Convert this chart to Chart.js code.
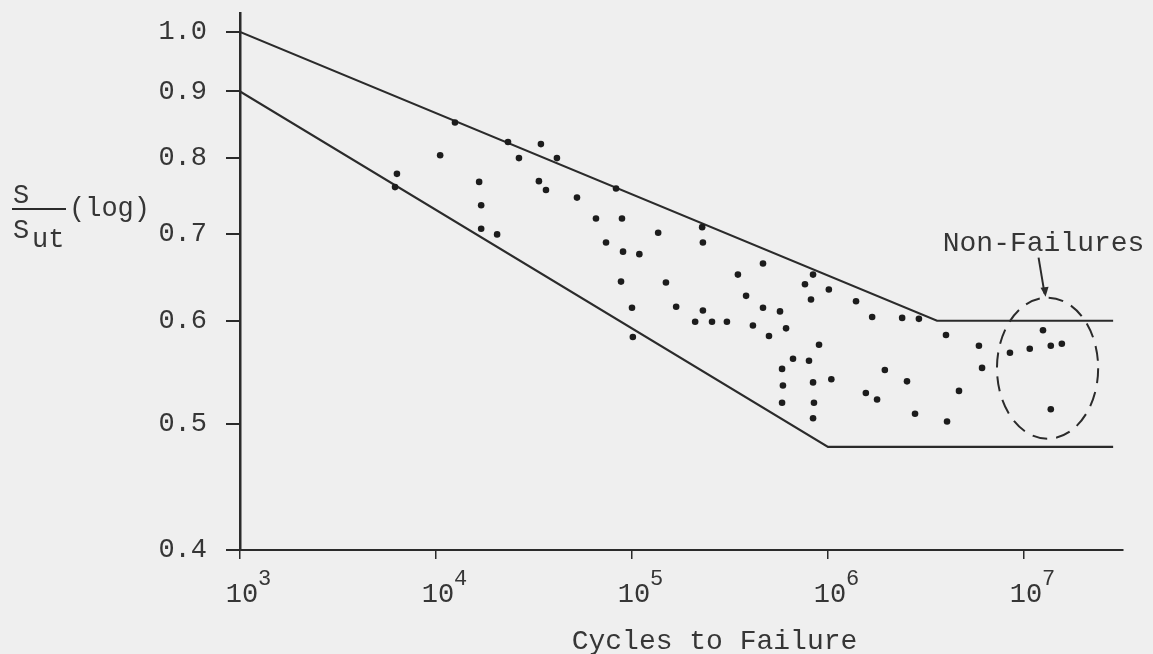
<!DOCTYPE html>
<html lang="en">

<head>
    <meta charset="UTF-8">
    <meta name="viewport" content="width=device-width, initial-scale=1.0">
    <title>Cycles to Failure</title>
    <script src="https://cdn.jsdelivr.net/npm/chart.js"></script>
    <style>
        html,
        body {
            margin: 0;
            padding: 0;
            background: #efefef;
        }

        canvas {
            display: block;
        }
    </style>
</head>

<body>
    <canvas id="snChart" width="1153" height="654"></canvas>

    <script>
        // axis ticks
        const xTicks = [1e3, 1e4, 1e5, 1e6, 1e7];
        const yTicks = [0.4, 0.5, 0.6, 0.7, 0.8, 0.9, 1.0];

        // test results: cycles to failure and S/Sut
        const cycles = [
            1.25e4, 2.33e4, 3.43e4, 4.14e4, 1.05e4, 2.65e4, 6.32e3, 6.18e3, 1.66e4, 1.70e4,
            1.70e4, 2.05e4, 3.35e4, 3.64e4, 5.24e4, 6.55e4, 8.29e4, 8.89e4, 1.36e5, 2.28e5,
            2.30e5, 7.37e4, 9.0e4, 1.09e5, 8.79e4, 1.49e5, 4.66e5, 3.47e5, 8.39e5, 7.63e5,
            8.19e5, 3.82e5, 4.66e5, 5.69e5, 6.11e5, 5.0e5, 1.0e5, 1.68e5, 2.30e5, 2.10e5,
            2.56e5, 3.05e5, 4.14e5, 1.01e5, 9.0e5, 6.63e5, 8.0e5, 5.83e5, 8.39e5, 5.89e5,
            5.83e5, 8.48e5, 8.39e5, 1.01e6, 1.39e6, 1.68e6, 2.39e6, 2.91e6, 4.0e6, 1.95e6,
            1.04e6, 2.53e6, 4.66e6, 1.56e6, 1.78e6, 2.78e6, 4.05e6, 5.89e6, 6.11e6, 1.25e7,
            8.48e6, 1.07e7, 1.37e7, 1.56e7, 1.37e7
        ];
        const ratio = [
            0.852, 0.823, 0.820, 0.800, 0.804, 0.800, 0.778, 0.760, 0.767, 0.736,
            0.706, 0.699, 0.768, 0.756, 0.746, 0.719, 0.758, 0.719, 0.701, 0.708,
            0.689, 0.689, 0.678, 0.675, 0.643, 0.642, 0.664, 0.651, 0.651, 0.640,
            0.623, 0.627, 0.614, 0.610, 0.592, 0.584, 0.614, 0.615, 0.611, 0.599,
            0.599, 0.599, 0.595, 0.583, 0.575, 0.561, 0.559, 0.551, 0.538, 0.535,
            0.519, 0.519, 0.505, 0.634, 0.621, 0.604, 0.603, 0.602, 0.585, 0.550,
            0.541, 0.539, 0.530, 0.528, 0.522, 0.509, 0.502, 0.574, 0.552, 0.590,
            0.567, 0.571, 0.574, 0.576, 0.513
        ];

        // scatter band boundaries
        const upperX = [1e3, 3.6e6, 2.85e7];
        const upperY = [1.0, 0.6, 0.6];
        const lowerX = [1e3, 1e6, 2.85e7];
        const lowerY = [0.9, 0.48, 0.48];

        // extent of the circled run-outs
        const runoutX = [7.28e6, 2.39e7];
        const runoutY = [0.487, 0.625];

        const ink = '#2b2b2b';
        const textInk = '#363636';
        const mono = '"Liberation Mono", "DejaVu Sans Mono", monospace';

        const toPoints = (xs, ys) => xs.map((v, i) => ({ x: v, y: ys[i] }));

        // labels, titles and the run-out callout
        const annotations = {
            id: 'annotations',
            afterDraw(chart) {
                const { ctx, chartArea } = chart;
                const x = chart.scales.x, y = chart.scales.y;
                ctx.save();
                ctx.fillStyle = textInk;
                ctx.strokeStyle = ink;
                ctx.textBaseline = 'alphabetic';

                // 10^n tick labels
                xTicks.forEach((v) => {
                    const px = x.getPixelForValue(v);
                    ctx.font = '27px ' + mono;
                    ctx.textAlign = 'center';
                    ctx.fillText('10', px + 2, chartArea.bottom + 52);
                    ctx.font = '22px ' + mono;
                    ctx.textAlign = 'left';
                    ctx.fillText(String(Math.round(Math.log10(v))), px + 18, chartArea.bottom + 35);
                });

                // x title
                ctx.font = '28px ' + mono;
                ctx.textAlign = 'center';
                ctx.fillText('Cycles to Failure', (chartArea.left + chartArea.right) / 2 + 33, 649);

                // y title: S / Sut (log)
                ctx.textAlign = 'left';
                ctx.font = '27px ' + mono;
                ctx.fillText('S', 13, 203);
                ctx.fillText('S', 13, 238);
                ctx.fillText('ut', 32, 247);
                ctx.fillText('(log)', 69, 216);
                ctx.lineWidth = 2;
                ctx.beginPath();
                ctx.moveTo(12, 209);
                ctx.lineTo(66, 209);
                ctx.stroke();

                // dashed ring round the run-outs
                const left = x.getPixelForValue(runoutX[0]);
                const right = x.getPixelForValue(runoutX[1]);
                const top = y.getPixelForValue(runoutY[1]);
                const bottom = y.getPixelForValue(runoutY[0]);
                const cx = (left + right) / 2, cy = (top + bottom) / 2;
                ctx.lineWidth = 2;
                ctx.setLineDash([15, 9]);
                ctx.beginPath();
                ctx.ellipse(cx, cy, (right - left) / 2, (bottom - top) / 2, 0, 0, Math.PI * 2);
                ctx.stroke();
                ctx.setLineDash([]);

                // callout label and arrow
                ctx.font = '28px ' + mono;
                ctx.textAlign = 'center';
                ctx.fillText('Non-Failures', cx - 4, top - 47);
                ctx.lineWidth = 2;
                ctx.beginPath();
                ctx.moveTo(cx - 9, top - 40);
                ctx.lineTo(cx - 3, top - 4);
                ctx.stroke();
                ctx.beginPath();
                ctx.moveTo(cx - 2, top - 1);
                ctx.lineTo(cx - 7, top - 10);
                ctx.lineTo(cx + 1, top - 11);
                ctx.closePath();
                ctx.fillStyle = ink;
                ctx.fill();
                ctx.restore();
            }
        };

        new Chart(document.getElementById('snChart'), {
            type: 'scatter',
            data: {
                datasets: [{
                    label: 'Tests',
                    data: toPoints(cycles, ratio),
                    pointRadius: 3.3,
                    pointBackgroundColor: '#1c1c1c',
                    pointBorderWidth: 0
                }, {
                    label: 'Upper bound',
                    data: toPoints(upperX, upperY),
                    showLine: true,
                    borderColor: ink,
                    borderWidth: 2.2,
                    pointRadius: 0
                }, {
                    label: 'Lower bound',
                    data: toPoints(lowerX, lowerY),
                    showLine: true,
                    borderColor: ink,
                    borderWidth: 2.2,
                    pointRadius: 0
                }]
            },
            options: {
                responsive: false,
                animation: false,
                events: [],
                layout: { padding: { left: 0, right: 30, top: 13, bottom: 0 } },
                plugins: {
                    legend: { display: false },
                    tooltip: { enabled: false }
                },
                scales: {
                    x: {
                        type: 'logarithmic',
                        min: 1e3,
                        max: 3.2e7,
                        afterBuildTicks: (s) => { s.ticks = xTicks.map((v) => ({ value: v })); },
                        afterFit: (s) => { s.height = 104; s.paddingLeft = 0; s.paddingRight = 0; },
                        ticks: { display: false },
                        grid: { drawOnChartArea: false, tickLength: 9, color: ink, lineWidth: 1.5 },
                        border: { color: ink, width: 2 }
                    },
                    y: {
                        type: 'logarithmic',
                        min: 0.4,
                        max: 1.034,
                        afterBuildTicks: (s) => { s.ticks = yTicks.map((v) => ({ value: v })); },
                        afterFit: (s) => { s.width = 240; s.paddingTop = 0; s.paddingBottom = 0; },
                        ticks: {
                            autoSkip: false,
                            padding: 19,
                            color: textInk,
                            font: { family: mono, size: 27 },
                            callback: (v) => Number(v).toFixed(1)
                        },
                        grid: { drawOnChartArea: false, tickLength: 14, color: ink, lineWidth: 2 },
                        border: { color: ink, width: 2.5 }
                    }
                }
            },
            plugins: [annotations]
        });
    </script>

</body>

</html>
